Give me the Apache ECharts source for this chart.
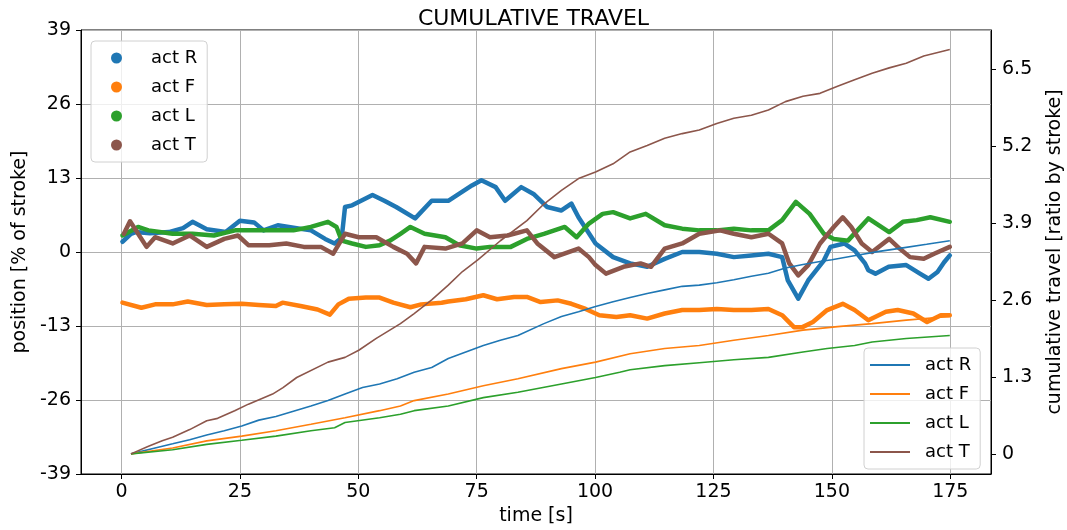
<!DOCTYPE html>
<html>
<head>
<meta charset="utf-8">
<script src="https://cdn.jsdelivr.net/npm/echarts@6/dist/echarts.min.js"></script>
<style>
  html, body { margin: 0; padding: 0; background: #fff; }
  #chart { width: 1067px; height: 530px; }
</style>
</head>
<body>
<div id="chart"></div>
<script>
// position [% of stroke] -- [time, value]
var posR = [[0.2,1.8],[2,3.2],[3,3.5],[6,3.3],[10,3.5],[13,4.2],[15,5.3],[18,4],[22,3.5],[25,5.5],[28,5.2],[30,3.8],[33,4.7],[36,4.3],[40,3.8],[43,2.3],[45,1.5],[46.5,2.5],[47.2,7.9],[48.7,8.2],[53,10],[55.5,9],[58,7.9],[62,5.9],[65.5,9],[69,9],[74,11.7],[76,12.6],[79,11.4],[81,9],[84.4,11.4],[87,10.2],[89.9,7.9],[92.9,7.3],[95,8.5],[96.5,6.1],[100.1,1.5],[103.8,-0.9],[107.4,-2],[111,-2.6],[114.7,-1.2],[118.4,0],[122,0],[125.7,-0.3],[129.3,-0.9],[133,-0.6],[136.6,-0.3],[139.5,-0.9],[140.7,-5],[142.9,-8.2],[145,-5],[148.3,-1.5],[149.7,0.9],[152.6,1.5],[154.8,0.3],[157,-2],[157.7,-3.2],[159.2,-3.8],[162,-2.6],[165.7,-2.3],[168.6,-3.8],[170.4,-4.7],[172.3,-3.5],[173.7,-1.8],[174.9,-0.6]];
var posF = [[0.2,-8.9],[4.2,-9.8],[7.1,-9.2],[10.8,-9.2],[14,-8.7],[18,-9.3],[21.7,-9.2],[25.4,-9.1],[29,-9.3],[32.6,-9.5],[34,-8.9],[37.8,-9.5],[41.4,-10.1],[44,-11],[45.8,-9.2],[48,-8.2],[51.6,-8],[54.5,-8],[57.4,-8.9],[61,-9.7],[63.3,-9.2],[67.6,-8.9],[69,-8.7],[72.7,-8.3],[76.4,-7.6],[79.3,-8.3],[82.9,-7.9],[85.6,-7.9],[88.5,-8.8],[92.1,-8.5],[95,-9.1],[98,-10],[100.9,-11.1],[104.5,-11.4],[107.4,-11.1],[111,-11.7],[114.7,-10.8],[118.4,-10.2],[122,-10.2],[125.7,-10],[129.3,-10.2],[133,-10.2],[136.6,-10],[139.5,-11.1],[142,-13.2],[143.8,-13.2],[146,-12.3],[149,-10.2],[152.3,-9.1],[154.8,-10.2],[157.7,-12],[161.4,-10.5],[163.9,-10.2],[167.2,-10.8],[170.1,-12.3],[173,-11.1],[174.9,-11.1]];
var posL = [[0.2,2.9],[3.5,4.4],[5.7,3.8],[10.8,3.2],[15,3.2],[19.5,2.9],[24,3.8],[29,3.8],[32.6,3.8],[36.3,3.8],[40,4.4],[43.6,5.3],[45.4,4.4],[46.5,2],[48.7,1.5],[51.6,0.9],[54.5,1.2],[56.7,2],[58.9,3.2],[61,4.4],[64,3.2],[68.4,2.6],[71.3,1.2],[75,0.6],[77.8,0.9],[82.2,0.9],[85.6,2.3],[89.2,3.2],[93.6,4.4],[96.1,2.6],[98.7,5],[101.6,6.7],[103.8,7],[107.4,5.9],[110.7,6.7],[114.7,4.7],[118.4,4.1],[122,3.8],[125.7,3.8],[129.3,4.1],[133,3.8],[136.6,3.8],[139.5,5.6],[142.4,8.8],[145.3,6.7],[148.3,3.2],[150.4,2.3],[153.4,2],[157.7,5.9],[162.1,3.5],[165,5.3],[167.9,5.6],[170.8,6.1],[174.9,5.3]];
var posT = [[0.5,3.2],[1.8,5.4],[5.3,0.9],[7.1,2.6],[10.8,1.5],[14.4,2.9],[18,0.9],[21.7,2.3],[24.6,2.9],[26.8,1.2],[31.2,1.2],[34.8,1.5],[38.5,0.9],[42.1,0.9],[44.7,-0.3],[47.2,3.2],[50.1,2.6],[53.8,2.6],[57.4,0.9],[60.3,-0.3],[62.2,-2],[64,0.9],[68.4,0.6],[72,1.5],[75,3.8],[77.8,2.6],[81.5,2.9],[85.6,3.8],[87.8,1.5],[91.4,-0.9],[96.5,0.6],[98.7,-0.9],[100.1,-2.3],[102.3,-3.8],[106,-2.6],[109.6,-2],[111.8,-2.6],[114.7,0.6],[118.4,1.5],[122,3.2],[126.4,3.8],[129.3,3.2],[133,2.6],[136.6,3.2],[139.5,1.5],[141,-2],[142.9,-4.1],[145,-2.3],[147.5,1.5],[150.4,4.4],[152.3,6.1],[154.1,4.4],[156.3,1.5],[158.5,0],[162.1,2.3],[164.3,0.6],[166.5,-0.9],[169.4,-1.2],[171.6,-0.3],[174.9,0.9]];

// cumulative travel [ratio by stroke] -- [time, value]
var cumR = [[2,0],[7.1,0.1],[10.8,0.17],[14.4,0.24],[18,0.32],[21.7,0.39],[25.4,0.47],[29,0.57],[32.6,0.63],[36.3,0.72],[40,0.81],[43.6,0.9],[47.2,1.01],[50.9,1.12],[54.5,1.18],[58.2,1.27],[61.8,1.38],[65.5,1.46],[69,1.61],[72.7,1.72],[76.4,1.83],[80,1.92],[83.7,2.0],[89.2,2.2],[92.9,2.32],[96.5,2.4],[100.1,2.49],[103.8,2.57],[107.4,2.64],[111,2.71],[114.7,2.77],[118.4,2.83],[122,2.85],[125.7,2.89],[129.3,2.94],[133,3.0],[136.6,3.05],[140.2,3.14],[143.9,3.2],[147.5,3.25],[150,3.28],[155,3.35],[160,3.42],[165,3.48],[170,3.54],[174.9,3.6]];
var cumF = [[2,0],[10.8,0.1],[18,0.22],[25.4,0.3],[32.6,0.39],[40,0.5],[47.2,0.61],[54.5,0.73],[58.9,0.81],[61.8,0.9],[69,1.01],[76.4,1.15],[83.7,1.27],[92.9,1.44],[100.1,1.55],[107.4,1.69],[114.7,1.78],[122,1.83],[129.3,1.92],[136.6,2.0],[143.9,2.09],[151.2,2.15],[158.5,2.2],[165.7,2.26],[174.9,2.32]];
var cumL = [[2,0],[10.8,0.07],[18,0.16],[25.4,0.23],[32.6,0.3],[40,0.39],[45,0.44],[47.2,0.53],[54.5,0.61],[58.9,0.67],[61.8,0.73],[69,0.81],[76.4,0.95],[83.7,1.04],[92.9,1.18],[100.1,1.29],[105.2,1.38],[107.4,1.42],[114.7,1.49],[122,1.54],[129.3,1.59],[136.6,1.63],[143.9,1.72],[149,1.78],[154.8,1.83],[158.5,1.89],[165.7,1.95],[174.9,2.0]];
var cumT = [[2,0],[5.7,0.13],[8.6,0.22],[10.8,0.28],[14.4,0.41],[18,0.56],[20.3,0.6],[23.9,0.73],[26.8,0.84],[31.9,1.01],[34.1,1.12],[37,1.29],[43.6,1.55],[47.2,1.63],[50.1,1.75],[53.8,1.95],[58.9,2.2],[61.8,2.37],[65.5,2.6],[69,2.85],[72,3.08],[75.3,3.28],[80,3.6],[85.6,3.94],[89.2,4.22],[92.9,4.45],[96.5,4.65],[100.1,4.76],[103.8,4.9],[107.4,5.1],[111,5.21],[114.7,5.33],[118.4,5.41],[122,5.47],[125.7,5.58],[129.3,5.67],[133,5.72],[136.6,5.81],[140.2,5.95],[143.9,6.04],[147.5,6.09],[151.2,6.21],[154.8,6.32],[158.5,6.43],[162.1,6.52],[165.7,6.6],[169.4,6.72],[174.9,6.83]];

var xTicks = [0, 25, 50, 75, 100, 125, 150, 175];
var rightTicks = [0, 1.3, 2.6, 3.9, 5.2, 6.5];
var colors = ['#1f77b4', '#ff7f0e', '#2ca02c', '#8c564b'];
var FONT = 'DejaVu Sans';

var myChart = echarts.init(document.getElementById('chart'));

// 位置: 粗线模拟散点
function posSeries(name, data, color) {
    return {
        name: name, type: 'line', yAxisIndex: 0, data: data,
        showSymbol: false, symbol: 'circle', color: color,
        lineStyle: {width: 4.5, color: color, join: 'round', cap: 'round'},
        z: 2
    };
}
// 累计行程: 细线, 右轴
function cumSeries(name, data, color) {
    return {
        name: name, type: 'line', yAxisIndex: 1, data: data,
        symbol: 'none', color: color,
        lineStyle: {width: 1.6, color: color},
        z: 3
    };
}

var option = {
    animation: false,
    textStyle: {fontFamily: FONT},
    title: {
        text: 'CUMULATIVE TRAVEL', left: 'center', top: 3,
        textStyle: {fontFamily: FONT, fontSize: 22, fontWeight: 'normal', color: '#000'}
    },
    grid: {
        left: 81, right: 76, top: 30, bottom: 56, outerBoundsMode: 'none',
        show: true, borderColor: '#000', borderWidth: 1
    },
    legend: [{
        left: 91, top: 41, orient: 'vertical',
        data: [
            {name: 'act R', icon: 'circle'}, {name: 'act F', icon: 'circle'},
            {name: 'act L', icon: 'circle'}, {name: 'act T', icon: 'circle'}
        ],
        itemWidth: 11, itemHeight: 11, itemGap: 11,
        padding: [8, 10, 8, 20],
        textStyle: {fontFamily: FONT, fontSize: 18, color: '#000', padding: [0, 0, 0, 24]},
        borderColor: '#d0d0d0', borderWidth: 1, borderRadius: 4,
        backgroundColor: 'rgba(255,255,255,0.8)'
    }, {
        left: 864, top: 348, orient: 'vertical',
        data: [
            {name: 'cum R', icon: 'rect'}, {name: 'cum F', icon: 'rect'},
            {name: 'cum L', icon: 'rect'}, {name: 'cum T', icon: 'rect'}
        ],
        formatter: function (name) { return 'act ' + name.slice(-1); },
        itemWidth: 40, itemHeight: 2, itemGap: 11,
        itemStyle: {borderWidth: 0},
        padding: [8, 9, 8, 6],
        textStyle: {fontFamily: FONT, fontSize: 18, color: '#000', padding: [0, 0, 0, 10]},
        borderColor: '#d0d0d0', borderWidth: 1, borderRadius: 4,
        backgroundColor: 'rgba(255,255,255,0.8)'
    }],
    xAxis: {
        type: 'value', min: -8.55, max: 183.6,
        name: 'time [s]', nameLocation: 'middle', nameGap: 31,
        nameTextStyle: {fontFamily: FONT, fontSize: 19, color: '#000'},
        axisLine: {show: true, onZero: false, lineStyle: {color: '#000'}},
        axisTick: {show: true, length: 5, lineStyle: {color: '#000'}, customValues: xTicks},
        axisLabel: {fontSize: 19, color: '#000', margin: 9, customValues: xTicks},
        splitLine: {show: true, lineStyle: {color: '#b0b0b0', width: 1}}
    },
    yAxis: [{
        type: 'value', min: -39, max: 39, interval: 13, position: 'left',
        name: 'position [% of stroke]', nameLocation: 'middle', nameGap: 51,
        nameTextStyle: {fontFamily: FONT, fontSize: 19, color: '#000'},
        axisLine: {show: true, onZero: false, lineStyle: {color: '#000'}},
        axisTick: {show: true, length: 5, lineStyle: {color: '#000'}},
        axisLabel: {fontSize: 19, color: '#000', margin: 10},
        splitLine: {show: true, lineStyle: {color: '#b0b0b0', width: 1}}
    }, {
        type: 'value', min: -0.34, max: 7.16, position: 'right',
        name: 'cumulative travel [ratio by stroke]', nameLocation: 'middle', nameGap: 55, nameRotate: 90,
        nameTextStyle: {fontFamily: FONT, fontSize: 19, color: '#000'},
        axisLine: {show: true, onZero: false, lineStyle: {color: '#000'}},
        axisTick: {show: true, length: 5, lineStyle: {color: '#000'}, customValues: rightTicks},
        axisLabel: {fontSize: 19, color: '#000', margin: 11, customValues: rightTicks},
        splitLine: {show: false}
    }],
    series: [
        posSeries('act R', posR, colors[0]),
        posSeries('act F', posF, colors[1]),
        posSeries('act L', posL, colors[2]),
        posSeries('act T', posT, colors[3]),
        cumSeries('cum R', cumR, colors[0]),
        cumSeries('cum F', cumF, colors[1]),
        cumSeries('cum L', cumL, colors[2]),
        cumSeries('cum T', cumT, colors[3])
    ]
};
myChart.setOption(option);
window.onresize = myChart.resize;
</script>
</body>
</html>
